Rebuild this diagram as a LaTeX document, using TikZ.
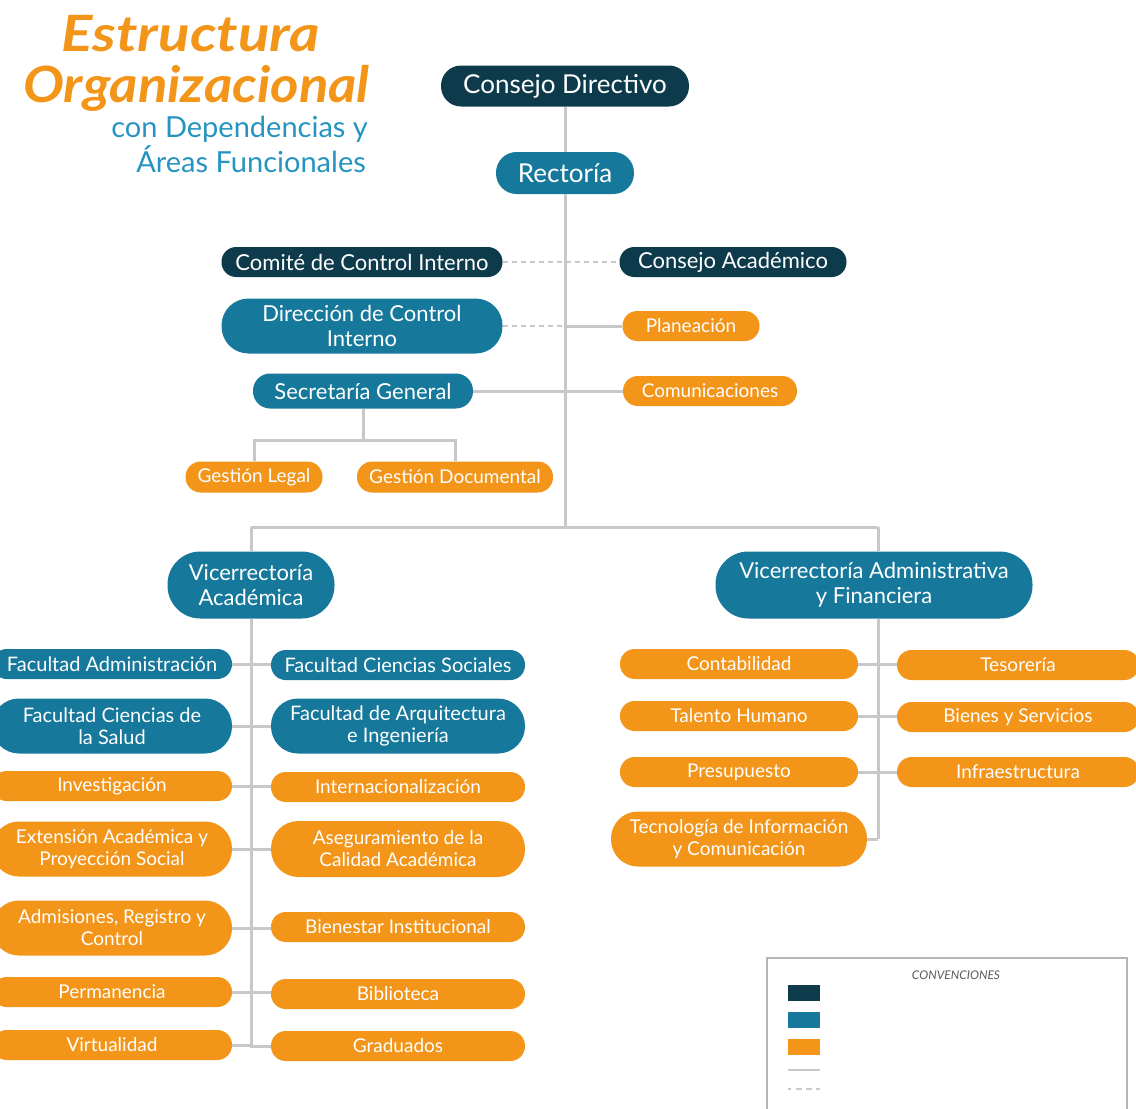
\documentclass[tikz,border=0pt]{standalone}
\usepackage{graphicx}
\usepackage{fontspec}
\setmainfont{Lato}
\newfontfamily\titlefont{Lato}
\usetikzlibrary{calc}
\definecolor{cdark}{RGB}{14,59,76}
\definecolor{cteal}{RGB}{22,120,154}
\definecolor{corange}{RGB}{242,149,25}
\definecolor{cline}{RGB}{200,200,200}
\definecolor{ctblue}{RGB}{38,148,192}
\definecolor{cgrey}{RGB}{90,90,90}
\newcommand\fsz[2]{\fontsize{#1}{#2}\selectfont}
\tikzset{
  pill/.style n args={3}{fill=#1, minimum width=#2, minimum height=#3,
    rounded corners=0.49*#3, text=white, inner sep=0pt, align=center},
  fsbig/.style={font=\fsz{26pt}{28pt}},
  fsmid/.style={font=\fsz{22pt}{25pt}},
  fssm/.style={font=\fsz{19pt}{22pt}},
  fsfac/.style={font=\fsz{20pt}{22pt}},
  conn/.style={draw=cline, line width=3pt},
  dashconn/.style={draw=cline, line width=2.5pt, dash pattern=on 5pt off 4pt},
  titleorange/.style={text=corange, font=\titlefont\bfseries\itshape\fsz{50pt}{50pt}, inner sep=0pt, anchor=east},
  titleblue/.style={text=ctblue, font=\titlefont\fsz{29pt}{30pt}, inner sep=0pt, anchor=east},
  swatch/.style={minimum width=32pt, minimum height=16pt, inner sep=0pt},
}
\begin{document}
\begin{tikzpicture}[x=1pt,y=-1pt]
\useasboundingbox (0,0) rectangle (1136,1109);
\clip (0,0) rectangle (1136,1109);
% title
\node[titleorange] (t1) at (320,34) {\scalebox{1.17}[1]{Estructura}};
\node[titleorange] (t2) at (370,88) {\scalebox{1.09}[1]{Organizacional}};
\node[titleblue] (t3) at (368,129) {con Dependencias y};
\node[titleblue] (t4) at (366,159) {Áreas Funcionales};
% top
\node[pill={cdark}{248pt}{41pt}, fsbig] (cd) at (565,86) {Consejo Directivo};
\node[pill={cteal}{138pt}{42pt}, fsbig] (rec) at (565,173) {Rectoría};
\node[pill={cdark}{281pt}{30pt}, fsmid] (cci) at (362,262) {Comité de Control Interno};
\node[pill={cdark}{227pt}{30pt}, fsmid] (ca) at (733,262) {Consejo Académico};
\node[pill={cteal}{281pt}{55pt}, fsmid] (dci) at (362,326) {Dirección de Control\\Interno};
\node[pill={corange}{137pt}{30pt}, fssm] (pla) at (691,326) {Planeación};
\node[pill={cteal}{220pt}{35pt}, fsmid] (sg) at (363,391) {Secretaría General};
\node[pill={corange}{174pt}{30pt}, fssm] (com) at (710,391) {Comunicaciones};
\node[pill={corange}{137pt}{31pt}, fssm] (gl) at (254,477) {Gestión Legal};
\node[pill={corange}{196pt}{31pt}, fssm] (gd) at (455,477) {Gestión Documental};
% vice
\node[pill={cteal}{167pt}{67pt}, fsmid] (va) at (251,585) {Vicerrectoría\\Académica};
\node[pill={cteal}{317pt}{67pt}, fsmid] (vaf) at (874,585) {Vicerrectoría Administrativa\\y Financiera};
% academic left
\node[pill={cteal}{240pt}{30pt}, fsfac] (fa) at (112,664) {Facultad Administración};
\node[pill={cteal}{240pt}{55pt}, fsfac] (fcsa) at (112,726) {Facultad Ciencias de\\la Salud};
\node[pill={corange}{240pt}{30pt}, fssm] (inv) at (112,786) {Investigación};
\node[pill={corange}{240pt}{55pt}, fssm] (ext) at (112,849) {Extensión Académica y\\Proyección Social};
\node[pill={corange}{240pt}{55pt}, fssm] (adm) at (112,928) {Admisiones, Registro y\\Control};
\node[pill={corange}{240pt}{30pt}, fssm] (per) at (112,992) {Permanencia};
\node[pill={corange}{240pt}{30pt}, fssm] (vir) at (112,1045) {Virtualidad};
% academic right
\node[pill={cteal}{254pt}{30pt}, fsfac] (fcs) at (398,665) {Facultad Ciencias Sociales};
\node[pill={cteal}{254pt}{55pt}, fsfac] (fai) at (398,726) {Facultad de Arquitectura\\e Ingeniería};
\node[pill={corange}{254pt}{30pt}, fssm] (int) at (398,787) {Internacionalización};
\node[pill={corange}{254pt}{56pt}, fssm] (ase) at (398,849) {Aseguramiento de la\\Calidad Académica};
\node[pill={corange}{254pt}{30pt}, fssm] (bie) at (398,927) {Bienestar Institucional};
\node[pill={corange}{254pt}{30pt}, fssm] (bib) at (398,994) {Biblioteca};
\node[pill={corange}{254pt}{30pt}, fssm] (gra) at (398,1046) {Graduados};
% admin left
\node[pill={corange}{238pt}{30pt}, fssm] (cont) at (739,664) {Contabilidad};
\node[pill={corange}{238pt}{30pt}, fssm] (tal) at (739,716) {Talento Humano};
\node[pill={corange}{238pt}{30pt}, fssm] (pre) at (739,772) {Presupuesto};
\node[pill={corange}{256pt}{55pt}, fssm] (tic) at (739,839) {Tecnología de Información\\y Comunicación};
% admin right
\node[pill={corange}{242pt}{30pt}, fssm] (tes) at (1018,665) {Tesorería};
\node[pill={corange}{242pt}{30pt}, fssm] (bys) at (1018,717) {Bienes y Servicios};
\node[pill={corange}{242pt}{30pt}, fssm] (inf) at (1018,772) {Infraestructura};
% junctions
\coordinate (j1) at (565,527);
\coordinate (jL) at (251,527);
\coordinate (jR) at (878,527);
\coordinate (sgj) at (363,440);
% connectors
\draw[conn] (cd.south) -- (rec.north);
\draw[conn] (rec.south) -- (j1);
\draw[conn] (jL) -- (jR);
\draw[conn] (jL) -- (va.north);
\draw[conn] (jR) -- (jR |- vaf.north);
\draw[dashconn] (cci.east) -- (ca.west);
\draw[dashconn] (dci.east) -- (dci.east -| j1);
\draw[conn] (dci.east -| j1) -- (pla.west);
\draw[conn] (sg.east) -- (sg.east -| com.west);
\draw[conn] (sg.south) -- (sgj);
\draw[conn] (gl.north) |- (sgj) -| (gd.north);
% academic
\draw[conn] (va.south) -- (va.south |- vir.east);
\draw[conn] (fa.east) -- (fa.east -| fcs.west);
\draw[conn] (fcsa.east) -- (fai.west);
\draw[conn] (inv.east) -- (inv.east -| int.west);
\draw[conn] (ext.east) -- (ase.west);
\draw[conn] (adm.east) -- (adm.east -| bie.west);
\draw[conn] (per.east) -- (per.east -| bib.west);
\draw[conn] (vir.east) -- (vir.east -| va.south) |- (gra.west);
% admin
\draw[conn] (jR |- vaf.south) -- (jR |- tic.east);
\draw[conn] (cont.east) -- (cont.east -| tes.west);
\draw[conn] (tal.east) -- (tal.east -| bys.west);
\draw[conn] (pre.east) -- (pre.east -| inf.west);
\draw[conn] (tic.east) -- (tic.east -| jR);
% legend
\draw[draw=cline!90!black, line width=1.5pt] (767,1120) -- (767,958) -- (1127,958) -- (1127,1120);
\node[text=cgrey, font=\itshape\fsz{12pt}{13pt}, inner sep=0pt] (lt) at (956,975) {CONVENCIONES};
\node[swatch, fill=cdark] (s1) at (804,993) {};
\node[swatch, fill=cteal] (s2) at (804,1020) {};
\node[swatch, fill=corange] (s3) at (804,1047) {};
\coordinate (l1a) at (788,1070); \coordinate (l1b) at (820,1070);
\coordinate (l2a) at (788,1089); \coordinate (l2b) at (820,1089);
\draw[draw=cline, line width=2pt] (l1a) -- (l1b);
\draw[draw=cline, line width=2pt, dash pattern=on 3pt off 5pt on 6pt off 4pt on 6pt off 4pt on 6pt] (l2a) -- (l2b);
\end{tikzpicture}
\end{document}
